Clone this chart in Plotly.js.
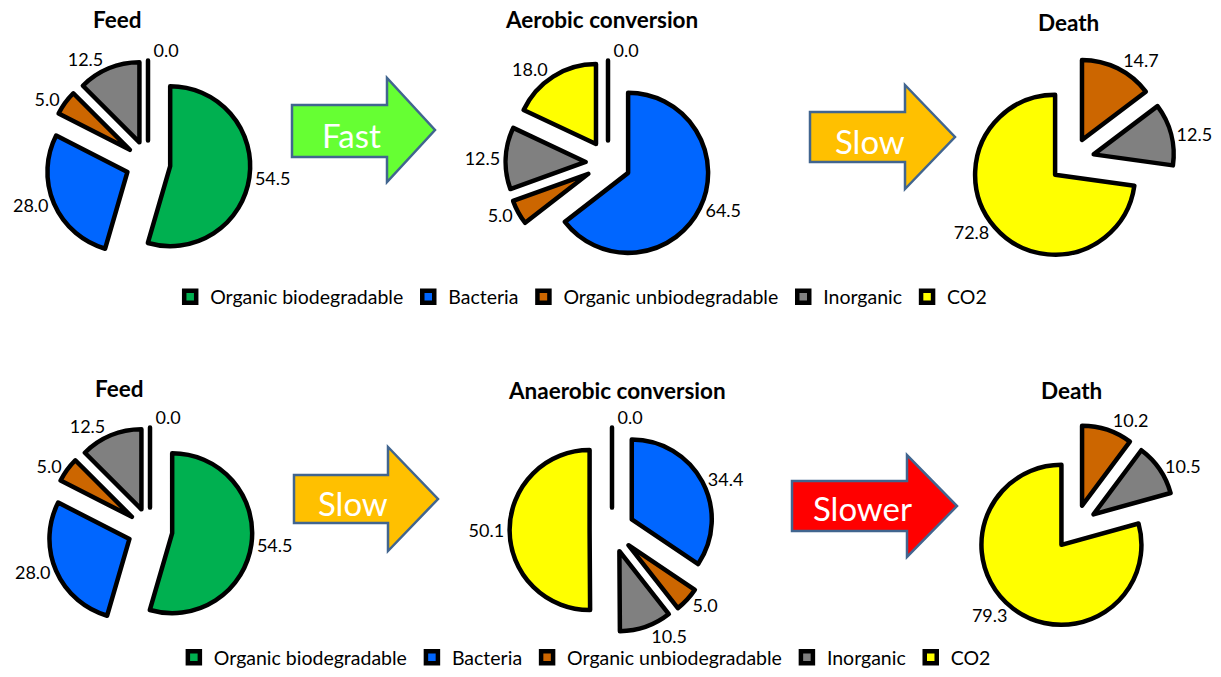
<!DOCTYPE html>
<html><head><meta charset="utf-8">
<script src="https://cdn.plot.ly/plotly-3.0.1.min.js"></script>
<style>html,body{margin:0;padding:0;background:#fff}#chart{width:1221px;height:677px}</style>
</head><body><div id="chart"></div>
<script>
// ---- data ----
const categories = ['Organic biodegradable', 'Bacteria', 'Organic unbiodegradable', 'Inorganic', 'CO2'];
const categoryColors = ['#00B050', '#0066FF', '#CC6600', '#808080', '#FFFF00'];

const feedValues = [54.5, 28.0, 5.0, 12.5, 0.0];
const aerobicValues = [0.0, 64.5, 5.0, 12.5, 18.0];
const aerobicDeathLabels = ['Organic unbiodegradable', 'Inorganic', 'CO2'];
const aerobicDeathValues = [14.7, 12.5, 72.8];
const anaerobicValues = [0.0, 34.4, 5.0, 10.5, 50.1];
const anaerobicDeathLabels = ['Organic unbiodegradable', 'Inorganic', 'CO2'];
const anaerobicDeathValues = [10.2, 10.5, 79.3];

const pieTitles = ['Feed', 'Aerobic conversion', 'Death', 'Feed', 'Anaerobic conversion', 'Death'];
const arrowLabels = ['Fast', 'Slow', 'Slow', 'Slower'];
const arrowColors = ['#66FF33', '#FFC000', '#FFC000', '#FF0000'];

// ---- layout geometry (pixels) ----
const W = 1221, H = 677;
const FONT = 'Lato, "Open Sans", sans-serif';
const pieRadius = 80, pullFrac = 0.28;
const pieCenters = [[148, 163], [608, 163], [1072, 160], [150, 530], [612, 530], [1075, 527]];
const titlePos = [[117, 20], [601, 20], [1068, 22], [120, 388], [617, 390], [1071, 390]];
// arrow: [bodyLeft, headBase, tip, bodyTop, bodyBottom, headTop, headBottom, tipY]
const arrowGeom = [
  [292, 387, 435, 105, 157, 78, 182, 130],
  [810, 905, 955, 112, 162, 85, 189, 137],
  [294, 388, 438, 475, 523, 447, 551, 499],
  [792, 907, 957, 481, 531, 455, 557, 506]
];
const arrowTextPos = [[351, 135], [870, 141], [353, 503], [862, 508]];

const px = x => x / W;
const py = y => 1 - y / H;

function domainFor(i) {
  const [cx, cy] = pieCenters[i];
  const h = pieRadius * (1 + pullFrac);
  return { x: [px(cx - h), px(cx + h)], y: [py(cy + h), py(cy - h)] };
}

function colorsFor(labels) {
  return labels.map(l => categoryColors[categories.indexOf(l)]);
}

function pie(i, labels, values, legendId) {
  return {
    type: 'pie',
    labels: labels,
    values: values,
    sort: false,
    direction: 'clockwise',
    rotation: 0,
    pull: pullFrac,
    domain: domainFor(i),
    marker: { colors: colorsFor(labels), line: { color: '#000000', width: 4.5 } },
    texttemplate: '%{value:.1f}',
    textposition: 'outside',
    outsidetextfont: { family: FONT, size: 18, color: '#000000' },
    hoverinfo: 'label+value',
    legend: legendId,
    legendgroup: legendId,
    name: pieTitles[i]
  };
}

const data = [
  pie(0, categories, feedValues, 'legend'),
  pie(1, categories, aerobicValues, 'legend'),
  pie(2, aerobicDeathLabels, aerobicDeathValues, 'legend'),
  pie(3, categories, feedValues, 'legend2'),
  pie(4, categories, anaerobicValues, 'legend2'),
  pie(5, anaerobicDeathLabels, anaerobicDeathValues, 'legend2')
];

const shapes = arrowGeom.map((g, i) => {
  const [l, hb, tip, bt, bb, ht, hbm, ty] = g;
  const pts = [[l, bt], [hb, bt], [hb, ht], [tip, ty], [hb, hbm], [hb, bb], [l, bb]];
  const path = 'M' + pts.map(p => px(p[0]) + ',' + py(p[1])).join('L') + 'Z';
  return {
    type: 'path', xref: 'paper', yref: 'paper', path: path,
    fillcolor: arrowColors[i], line: { color: '#41658F', width: 2.5 }, layer: 'below'
  };
});

const annotations = [];
pieTitles.forEach((t, i) => {
  annotations.push({
    xref: 'paper', yref: 'paper', x: px(titlePos[i][0]), y: py(titlePos[i][1]),
    xanchor: 'center', yanchor: 'middle', showarrow: false,
    text: '<b>' + t + '</b>', font: { family: FONT, size: 22.5, color: '#000000' }
  });
});
arrowLabels.forEach((t, i) => {
  annotations.push({
    xref: 'paper', yref: 'paper', x: px(arrowTextPos[i][0]), y: py(arrowTextPos[i][1]),
    xanchor: 'center', yanchor: 'middle', showarrow: false,
    text: t, font: { family: FONT, size: 33, color: '#FFFFFF' }
  });
});

const legendCommon = {
  orientation: 'h', xanchor: 'center', x: 0.476,
  font: { family: FONT, size: 19.5, color: '#000000' },
  bgcolor: 'rgba(0,0,0,0)', traceorder: 'normal'
};

const layout = {
  width: W, height: H,
  margin: { l: 0, r: 0, t: 0, b: 0 },
  paper_bgcolor: '#ffffff',
  font: { family: FONT, color: '#000000' },
  showlegend: true,
  legend: Object.assign({}, legendCommon, { y: py(297), yanchor: 'middle' }),
  legend2: Object.assign({}, legendCommon, { x: 0.479, y: 0, yanchor: 'bottom' }),
  shapes: shapes,
  annotations: annotations
};

Plotly.newPlot('chart', data, layout, { displayModeBar: false, staticPlot: true });
</script>
</body></html>
